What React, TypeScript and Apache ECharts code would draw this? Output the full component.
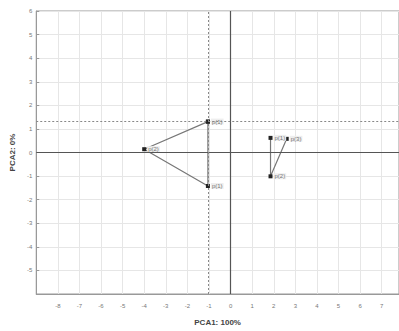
import React, { useEffect, useRef } from "react";
import * as echarts from "echarts";

const groupA = [
  { name: "p(1)", x: -1.05, y: 1.31 },
  { name: "p(2)", x: -4.0, y: 0.14 },
  { name: "p(1)", x: -1.05, y: -1.42 },
];
const groupB = [
  { name: "p(1)", x: 1.85, y: 0.62 },
  { name: "p(2)", x: 1.85, y: -1.01 },
  { name: "p(3)", x: 2.6, y: 0.58 },
];
const refX = -1.05;
const refY = 1.31;
const xTitle = "PCA1: 100%";
const yTitle = "PCA2: 0%";

export default function App() {
  const ref = useRef<HTMLDivElement>(null);
  useEffect(() => {
    const chart = echarts.init(ref.current!, null, { renderer: "svg" });
    const mk = (pts: { name: string; x: number; y: number }[], closed: boolean) => {
      const d = pts.map((p) => ({ value: [p.x, p.y], name: p.name }));
      if (closed) d.push({ value: [pts[0].x, pts[0].y], name: "" });
      return d;
    };
    const lbl = {
      show: true,
      position: "right" as const,
      distance: 1,
      fontSize: 6,
      color: "#777",
      backgroundColor: "#eee",
      padding: [0, 1],
      formatter: (p: any) => p.name,
    };
    chart.setOption({
      animation: false,
      grid: { left: 33, top: 11, right: 0, bottom: 32, show: true, borderColor: "#999", borderWidth: 1 },
      xAxis: {
        type: "value",
        min: -9,
        max: 7.8,
        interval: 1,
        name: xTitle,
        nameLocation: "middle",
        nameGap: 24,
        nameTextStyle: { fontSize: 8, fontWeight: "bold", color: "#444", fontFamily: "Liberation Sans" },
        axisLine: { show: true, onZero: false, lineStyle: { color: "#999" } },
        axisTick: { show: false },
        axisLabel: {
          fontSize: 6,
          color: "#777",
          margin: 9,
          showMinLabel: false,
          showMaxLabel: false,
          formatter: (v: number) => (Number.isInteger(v) ? String(v) : ""),
        },
        splitLine: { show: true, lineStyle: { color: "#e6e6e6", width: 1 } },
      },
      yAxis: {
        type: "value",
        min: -6,
        max: 6,
        interval: 1,
        name: yTitle,
        nameLocation: "middle",
        nameGap: 11,
        nameTextStyle: { fontSize: 8, fontWeight: "bold", color: "#444", fontFamily: "Liberation Sans" },
        axisLine: { show: true, onZero: false, lineStyle: { color: "#999" } },
        axisTick: { show: true, inside: true, length: 3, lineStyle: { color: "#999" } },
        axisLabel: { fontSize: 6, color: "#777", margin: 4, showMinLabel: false },
        splitLine: { show: true, lineStyle: { color: "#e6e6e6", width: 1 } },
      },
      series: [
        {
          type: "line",
          data: mk(groupA, true),
          symbol: "rect",
          symbolSize: 4,
          itemStyle: { color: "#222" },
          lineStyle: { color: "#777", width: 1.2 },
          label: lbl,
          markLine: {
            silent: true,
            symbol: "none",
            label: { show: false },
            data: [
              { xAxis: 0, lineStyle: { color: "#555", type: "solid", width: 1.2 } },
              { yAxis: 0, lineStyle: { color: "#555", type: "solid", width: 1.2 } },
              { xAxis: refX, lineStyle: { color: "#888", type: [2, 2], width: 1 } },
              { yAxis: refY, lineStyle: { color: "#888", type: [2, 2], width: 1 } },
            ],
          },
          z: 3,
        },
        {
          type: "line",
          data: mk(groupB, false),
          symbol: "rect",
          symbolSize: 4,
          itemStyle: { color: "#222" },
          lineStyle: { color: "#777", width: 1.2 },
          label: lbl,
          z: 3,
        },
      ],
    });
    return () => chart.dispose();
  }, []);
  return <div ref={ref} style={{ width: 399, height: 331, position: "absolute", left: 0, top: 0, background: "#fff" }} />;
}
